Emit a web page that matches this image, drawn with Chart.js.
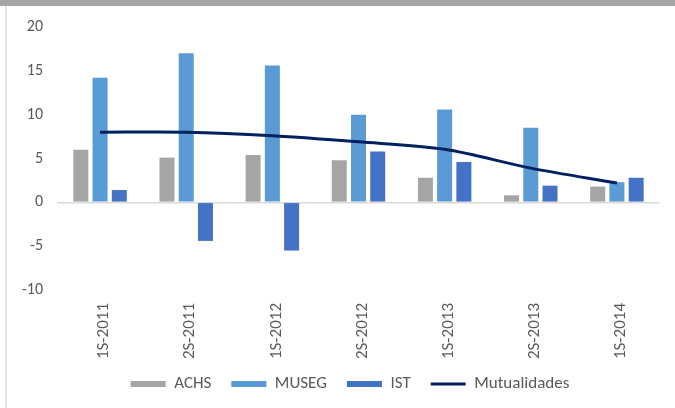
<!DOCTYPE html>
<html><head><meta charset="utf-8">
<script src="https://cdn.jsdelivr.net/npm/chart.js@4.4.0/dist/chart.umd.min.js"></script>
<style>
html,body{margin:0;padding:0;background:#fff;}
#wrap{position:relative;width:675px;height:408px;overflow:hidden;background:#fff;}
#topbar{position:absolute;left:0;top:0;width:675px;height:6px;background:#a6a6a6;}
#leftline{position:absolute;left:5px;top:6px;width:2px;height:402px;background:#e3e3e3;}
canvas{position:absolute;left:0;top:0;}
</style></head><body>
<div id="wrap"><canvas id="c" width="675" height="408"></canvas><div id="topbar"></div><div id="leftline"></div></div>
<script>
const categories = ['1S-2011','2S-2011','1S-2012','2S-2012','1S-2013','2S-2013','1S-2014'];
const achs = [6.0, 5.1, 5.4, 4.8, 2.8, 0.8, 1.8];
const museg = [14.2, 17.0, 15.6, 10.0, 10.6, 8.5, 2.3];
const ist = [1.4, -4.4, -5.5, 5.8, 4.6, 1.9, 2.8];
const mutualidades = [8.0, 8.0, 7.6, 6.9, 6.05, 3.9, 2.2];
const yTicks = [-10, -5, 0, 5, 10, 15, 20];

const FONT = 'Carlito, Lato, sans-serif';
const TXT = '#595959';

const shiftLegend = {
  id:'shiftLegend',
  afterLayout(chart){
    const lg = chart.legend;
    if (!lg) return;
    const dx = 350 - (lg.left + lg.right)/2;
    const dy = -5.5;
    lg.left += dx; lg.right += dx;
    lg.top += dy; lg.bottom += dy;
    if (lg.legendHitBoxes) lg.legendHitBoxes.forEach(h=>{ h.left += dx; h.top += dy; });
  }
};

new Chart(document.getElementById('c'), {
  data: {
    labels: categories,
    datasets: [
      {type:'bar', label:'ACHS', data:achs, backgroundColor:'#a5a5a5', order:1, categoryPercentage:0.67, barPercentage:0.78},
      {type:'bar', label:'MUSEG', data:museg, backgroundColor:'#5b9bd5', order:1, categoryPercentage:0.67, barPercentage:0.78},
      {type:'bar', label:'IST', data:ist, backgroundColor:'#4472c4', order:1, categoryPercentage:0.67, barPercentage:0.78},
      {type:'line', label:'Mutualidades', data:mutualidades, borderColor:'#002060', backgroundColor:'#002060', borderWidth:3, pointRadius:0, tension:0.3, order:0, fill:false}
    ]
  },
  plugins:[shiftLegend],
  options: {
    responsive:false, animation:false, devicePixelRatio:1,
    layout:{padding:{left:0, right:15, top:27, bottom:0}},
    plugins:{
      tooltip:{enabled:false},
      legend:{
        position:'bottom',
        labels:{
          color:TXT, font:{family:FONT, size:17, lineHeight:1},
          usePointStyle:true, pointStyleWidth:35, boxHeight:6, padding:20,
          sort:(a,b)=>a.datasetIndex-b.datasetIndex,
          generateLabels:(chart)=>{
            const items = Chart.defaults.plugins.legend.labels.generateLabels(chart);
            items.forEach(it=>{
              const ds = chart.data.datasets[it.datasetIndex];
              if (ds.type==='line'){ it.pointStyle='line'; it.lineWidth=3; it.strokeStyle=ds.borderColor; it.fillStyle=ds.borderColor; }
              else { it.pointStyle='rect'; it.lineWidth=0; it.fillStyle=ds.backgroundColor; it.strokeStyle=ds.backgroundColor; }
            });
            return items;
          }
        }
      }
    },
    scales:{
      x:{
        grid:{display:false, drawTicks:false}, border:{display:false},
        ticks:{color:TXT, font:{family:FONT, size:17}, maxRotation:90, minRotation:90, padding:13, autoSkip:false, labelOffset:4},
        afterFit:(s)=>{ s.height = 71; }
      },
      y:{
        min:-10, max:20,
        afterBuildTicks:(s)=>{ s.ticks = yTicks.map(v=>({value:v})); },
        grid:{drawTicks:false, color:(c)=> c.tick && c.tick.value===0 ? '#d9d9d9' : 'rgba(0,0,0,0)', lineWidth:1.5},
        border:{display:false},
        ticks:{color:TXT, font:{family:FONT, size:16}, padding:14},
        afterFit:(s)=>{ s.width = 57; }
      }
    }
  }
});
</script>
</body></html>
